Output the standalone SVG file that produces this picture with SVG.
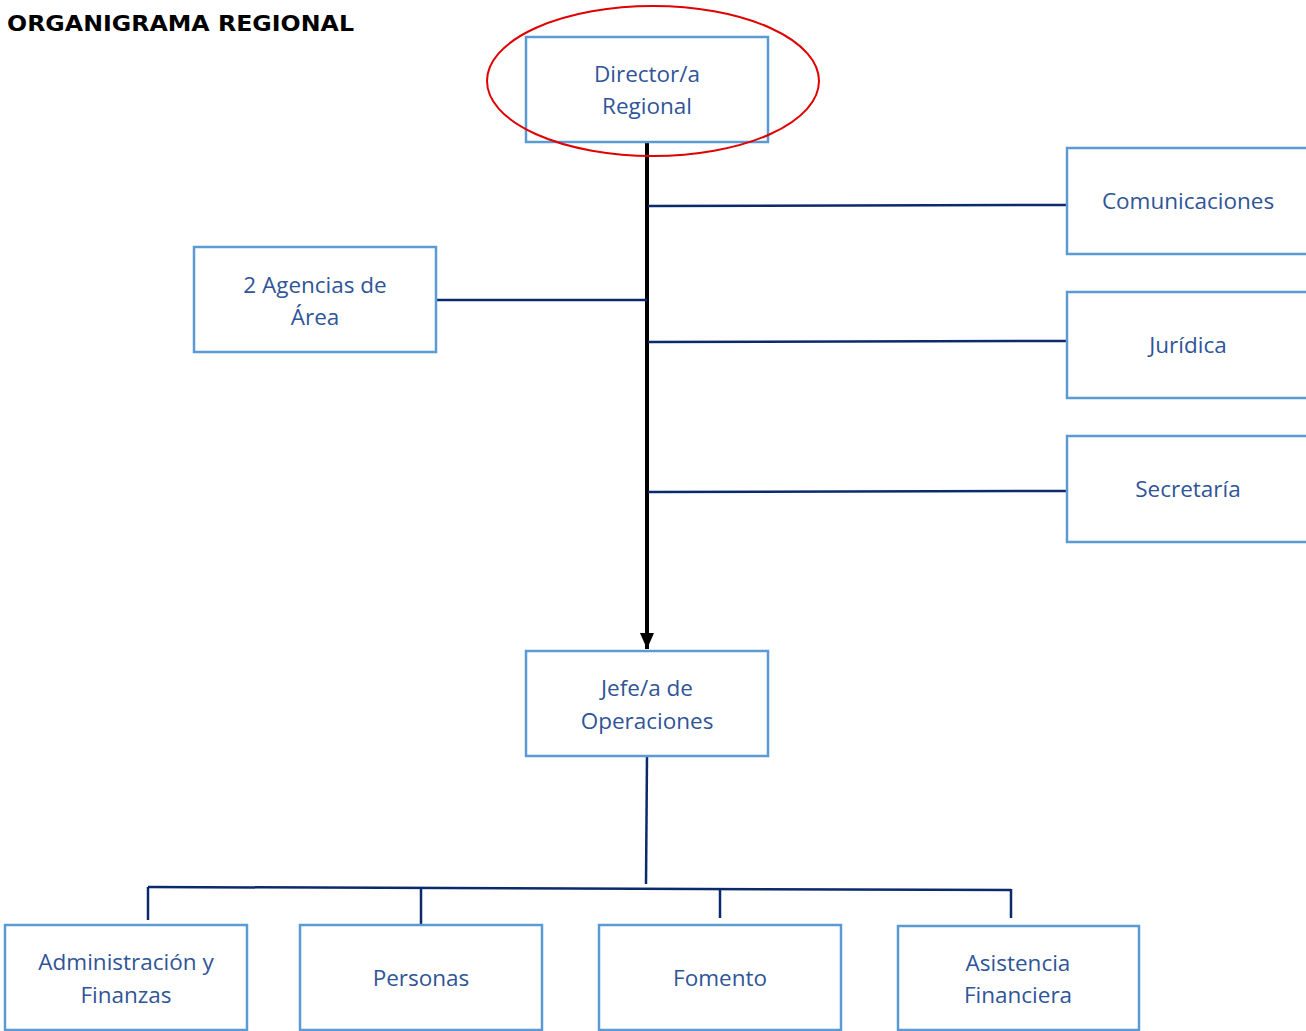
<svg xmlns="http://www.w3.org/2000/svg" width="1306" height="1031" viewBox="0 0 1306 1031">
<defs>
<style>
.box{fill:#fff;stroke:#5b9bd5;stroke-width:2.5}
.lbl{font-family:"Open Sans","Liberation Sans",sans-serif;font-size:22.5px;fill:#2f5597;text-anchor:middle}
.ln{stroke:#0b2a6b;stroke-width:2.5;fill:none}
</style>
<marker id="ah" markerWidth="5" markerHeight="5" refX="4" refY="2.5" orient="auto" markerUnits="strokeWidth">
<path d="M0,0.75 L4,2.5 L0,4.25 Z" fill="#000"/>
</marker>
</defs>
<rect width="1306" height="1031" fill="#fff"/>
<text x="7" y="31" font-family="'DejaVu Sans','Liberation Sans',sans-serif" font-weight="bold" font-size="22" fill="#000" textLength="347" lengthAdjust="spacingAndGlyphs">ORGANIGRAMA REGIONAL</text>
<g id="connectors">
<line x1="647" y1="142" x2="647" y2="649" stroke="#000" stroke-width="4" marker-end="url(#ah)"/>
<path class="ln" d="M648,206 L1067,205"/>
<path class="ln" d="M436,300 L647,300"/>
<path class="ln" d="M648,342 L1067,341"/>
<path class="ln" d="M648,492 L1067,491"/>
<path class="ln" d="M647,756 L646,884"/>
<path class="ln" d="M148,887 L1011,890"/>
<path class="ln" d="M148,887 L148,920"/>
<path class="ln" d="M421,889 L421,924"/>
<path class="ln" d="M720,889 L720,918"/>
<path class="ln" d="M1011,889 L1011,918"/>
</g>
<g id="director">
<rect class="box" x="526" y="37" width="242" height="105"/>
<text class="lbl" x="647" y="82">Director/a</text>
<text class="lbl" x="647" y="114">Regional</text>
</g>
<ellipse id="highlight" cx="653" cy="81" rx="166" ry="75" fill="none" stroke="#e00000" stroke-width="2"/>
<g id="comunicaciones">
<rect class="box" x="1067" y="148" width="242" height="106"/>
<text class="lbl" x="1188" y="209">Comunicaciones</text>
</g>
<g id="juridica">
<rect class="box" x="1067" y="292" width="242" height="106"/>
<text class="lbl" x="1188" y="353">Jurídica</text>
</g>
<g id="secretaria">
<rect class="box" x="1067" y="436" width="242" height="106"/>
<text class="lbl" x="1188" y="497">Secretaría</text>
</g>
<g id="agencias">
<rect class="box" x="194" y="247" width="242" height="105"/>
<text class="lbl" x="315" y="293">2 Agencias de</text>
<text class="lbl" x="315" y="325">Área</text>
</g>
<g id="jefe">
<rect class="box" x="526" y="651" width="242" height="105"/>
<text class="lbl" x="647" y="696">Jefe/a de</text>
<text class="lbl" x="647" y="729">Operaciones</text>
</g>
<g id="administracion">
<rect class="box" x="5" y="925" width="242" height="105"/>
<text class="lbl" x="126" y="970">Administración y</text>
<text class="lbl" x="126" y="1003">Finanzas</text>
</g>
<g id="personas">
<rect class="box" x="300" y="925" width="242" height="105"/>
<text class="lbl" x="421" y="986">Personas</text>
</g>
<g id="fomento">
<rect class="box" x="599" y="925" width="242" height="105"/>
<text class="lbl" x="720" y="986">Fomento</text>
</g>
<g id="asistencia">
<rect class="box" x="898" y="926" width="241" height="104"/>
<text class="lbl" x="1018" y="971">Asistencia</text>
<text class="lbl" x="1018" y="1003">Financiera</text>
</g>
</svg>
